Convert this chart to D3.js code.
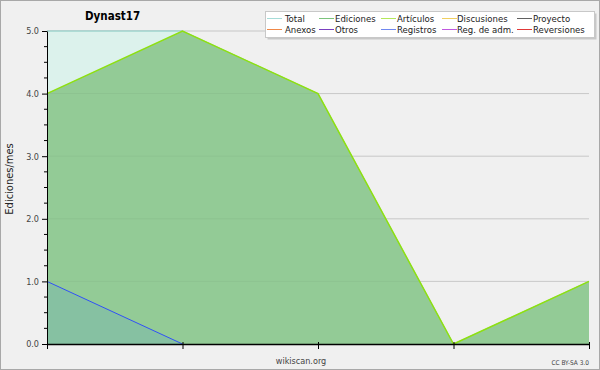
<!DOCTYPE html>
<html><head><meta charset="utf-8">
<script src="https://cdn.jsdelivr.net/npm/d3@7"></script>
<style>body{margin:0;background:#f0f0f0}svg{display:block}text{font-family:"DejaVu Sans",sans-serif;font-stretch:condensed}</style>
</head><body><svg id="c" width="600" height="370"></svg>
<script>
const months = [0,1,2,3,4];
const total = [5,5,4,0,1];
const ediciones = [4,5,4,0,1];
const articulos = [4,5,4,0,1];
const registros = [1,0,0,0,0];
const yTicks = [0,1,2,3,4,5];
const legendItems = [
 ["Total","#a6dcd8"],["Ediciones","#7cc47c"],["Artículos","#b4e85a"],["Discusiones","#f0d060"],["Proyecto","#606060"],
 ["Anexos","#f08848"],["Otros","#7a40c0"],["Registros","#7088f0"],["Reg. de adm.","#c058e0"],["Reversiones","#e03838"]
];
const svg = d3.select("#c");
const W=600,H=370, L=47,R=589,T=31,B=344;
svg.append("rect").attr("x",0.5).attr("y",0.5).attr("width",W-1).attr("height",H-1).attr("fill","#f0f0f0").attr("stroke","#a8a8a8");
const x = d3.scaleLinear().domain([0,4]).range([L,R]);
const y = d3.scaleLinear().domain([0,5]).range([B,T]);
// grid
svg.append("g").selectAll("line").data(yTicks.filter(d=>d>0)).join("line")
 .attr("x1",L).attr("x2",R).attr("y1",d=>y(d)).attr("y2",d=>y(d)).attr("stroke","#d0d0d0");
const area = d3.area().x((d,i)=>x(months[i])).y0(y(0)).y1(d=>y(d));
const line = d3.line().x((d,i)=>x(months[i])).y(d=>y(d));
svg.append("path").attr("d",area(total)).attr("fill","#dcf2ec");
svg.append("path").attr("d",line(total)).attr("fill","none").attr("stroke","#88d0c8").attr("stroke-width",1);
svg.append("path").attr("d",area(ediciones)).attr("fill","#93cb96");
svg.append("g").selectAll("line").data(yTicks.filter(d=>d>0)).join("line")
 .attr("x1",L).attr("x2",R).attr("y1",d=>y(d)).attr("y2",d=>y(d)).attr("stroke","#000").attr("stroke-opacity",0.04);
svg.append("path").attr("d",area(registros)).attr("fill","#86c1a2");
svg.append("path").attr("d",line(articulos)).attr("fill","none").attr("stroke","#8ee010").attr("stroke-width",1.5);
svg.append("path").attr("d",line(registros.slice(0,2))).attr("fill","none").attr("stroke","#3050f8").attr("stroke-width",1);
// axes
const ya = d3.axisLeft(y).tickValues(yTicks).tickFormat(d3.format(".1f")).tickSize(5).tickSizeOuter(0);
const gy = svg.append("g").attr("transform",`translate(${L},0)`).call(ya);
gy.selectAll(".tick text").attr("font-size",9).attr("fill","#444").attr("font-family","DejaVu Sans").style("font-stretch","condensed");
gy.select(".domain").attr("stroke","#000");
const minor = d3.range(0,5.01,0.25).filter(v=>Math.abs(v-Math.round(v))>0.01);
svg.append("g").selectAll("line").data(minor).join("line")
 .attr("x1",L-3).attr("x2",L).attr("y1",d=>y(d)).attr("y2",d=>y(d)).attr("stroke","#000");
const xa = d3.axisBottom(x).tickValues(months).tickFormat("").tickSize(5).tickSizeOuter(0);
const gx = svg.append("g").attr("transform",`translate(0,${B})`).call(xa);
gx.select(".domain").attr("stroke","#000").attr("stroke-width",1.5);
gx.selectAll(".tick line").attr("y1",-2);
// texts
svg.append("text").attr("x",85).attr("y",20).attr("font-size",11.5).attr("font-weight","bold").text("Dynast17");
svg.append("text").attr("transform","translate(13,179) rotate(-90)").attr("text-anchor","middle").attr("font-size",11).attr("fill","#222").text("Ediciones/mes");
svg.append("text").attr("x",301).attr("y",364).attr("text-anchor","middle").attr("font-size",9).attr("fill","#444").text("wikiscan.org");
svg.append("text").attr("x",589).attr("y",365).attr("text-anchor","end").attr("font-size",6.5).attr("fill","#444").text("CC BY-SA 3.0");
// legend
const lg = svg.append("g");
lg.append("rect").attr("x",267.5).attr("y",13.5).attr("width",329).attr("height",26).attr("fill","#c8c8c8");
lg.append("rect").attr("x",265.5).attr("y",11.5).attr("width",329).attr("height",26).attr("fill","#fff").attr("stroke","#c8c8c8");
const colX = [[267,285],[319,335],[381,397],[442,457],[517,533]];
legendItems.forEach((d,i)=>{
 const c=i%5, r=Math.floor(i/5);
 const ly = 18.5+r*11;
 lg.append("line").attr("x1",colX[c][0]).attr("x2",colX[c][0]+15).attr("y1",ly).attr("y2",ly).attr("stroke",d[1]);
 lg.append("text").attr("x",colX[c][1]).attr("y",ly+3.5).attr("font-size",9.5).attr("fill","#222").text(d[0]);
});
</script></body></html>
